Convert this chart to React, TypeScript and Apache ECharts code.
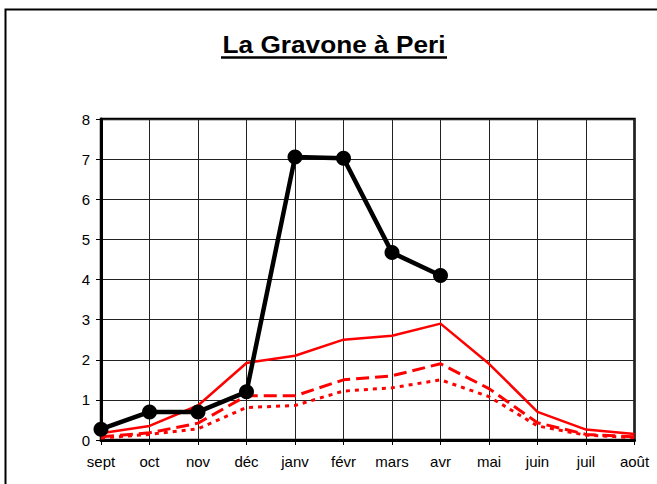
import React, { useEffect, useRef } from "react";
import * as echarts from "echarts";

const months = ["sept", "oct", "nov", "déc", "janv", "févr", "mars", "avr", "mai", "juin", "juil", "août"];
const observed = [0.27, 0.7, 0.7, 1.2, 7.05, 7.02, 4.67, 4.1, null, null, null, null];
const redSolid = [0.17, 0.35, 0.86, 1.92, 2.1, 2.5, 2.6, 2.9, 1.9, 0.7, 0.26, 0.15];
const redDashed = [0.08, 0.18, 0.42, 1.1, 1.1, 1.5, 1.6, 1.9, 1.28, 0.43, 0.14, 0.08];
const redDotted = [0.05, 0.14, 0.28, 0.81, 0.86, 1.22, 1.3, 1.5, 1.08, 0.35, 0.12, 0.06];
const yTicks = { min: 0, max: 8, interval: 1 };
const titleText = "La Gravone à Peri";

export default function App() {
  const ref = useRef<HTMLDivElement>(null);
  useEffect(() => {
    if (!ref.current) return;
    const chart = echarts.init(ref.current, null, { renderer: "svg" });
    const font = "Liberation Sans, Arial, sans-serif";
    chart.setOption({
      animation: false,
      backgroundColor: "#fff",
      graphic: [
        {
          type: "rect",
          shape: { x: 5.5, y: 9.5, width: 720, height: 620 },
          style: { fill: "none", stroke: "#000", lineWidth: 2 },
          silent: true,
        },
        {
          type: "text",
          x: 334,
          y: 45.5,
          scaleX: 1.14,
          style: {
            text: titleText,
            fontFamily: font,
            fontSize: 23,
            fontWeight: "bold",
            fill: "#000",
            align: "center",
            verticalAlign: "middle",
          },
          silent: true,
        },
        {
          type: "line",
          shape: { x1: 221, y1: 57.5, x2: 447, y2: 57.5 },
          style: { stroke: "#000", lineWidth: 2.5 },
          silent: true,
        },
      ],
      grid: {
        left: 101,
        right: 22.5,
        top: 119,
        bottom: 44,
        show: true,
        borderColor: "#000",
        borderWidth: 2.5,
        containLabel: false,
      },
      xAxis: {
        type: "category",
        data: months,
        boundaryGap: false,
        axisLine: { lineStyle: { color: "#000", width: 3 } },
        axisTick: { show: true, length: 5, lineStyle: { color: "#000", width: 1 } },
        axisLabel: { color: "#000", fontFamily: font, fontSize: 15, margin: 14 },
        splitLine: { show: true, lineStyle: { color: "#222", width: 1 } },
      },
      yAxis: {
        type: "value",
        min: yTicks.min,
        max: yTicks.max,
        interval: yTicks.interval,
        axisLine: { show: true, lineStyle: { color: "#000", width: 3 } },
        axisTick: { show: true, length: 5, lineStyle: { color: "#000", width: 1 } },
        axisLabel: { color: "#000", fontFamily: font, fontSize: 15, margin: 11 },
        splitLine: { show: true, lineStyle: { color: "#222", width: 1 } },
      },
      series: [
        {
          type: "line",
          data: redDotted,
          symbol: "none",
          lineStyle: { color: "#ff0000", width: 3, type: [4, 5] },
          z: 2,
        },
        {
          type: "line",
          data: redDashed,
          symbol: "none",
          lineStyle: { color: "#ff0000", width: 3, type: [13, 6] },
          z: 3,
        },
        {
          type: "line",
          data: redSolid,
          symbol: "none",
          lineStyle: { color: "#ff0000", width: 2.5, type: "solid" },
          z: 4,
        },
        {
          type: "line",
          data: observed,
          symbol: "circle",
          symbolSize: 15,
          itemStyle: { color: "#000" },
          lineStyle: { color: "#000", width: 4.5 },
          connectNulls: false,
          z: 5,
        },
      ],
    });
    return () => chart.dispose();
  }, []);
  return (
    <div
      ref={ref}
      style={{ position: "fixed", left: 0, top: 0, width: 657, height: 484 }}
    />
  );
}
